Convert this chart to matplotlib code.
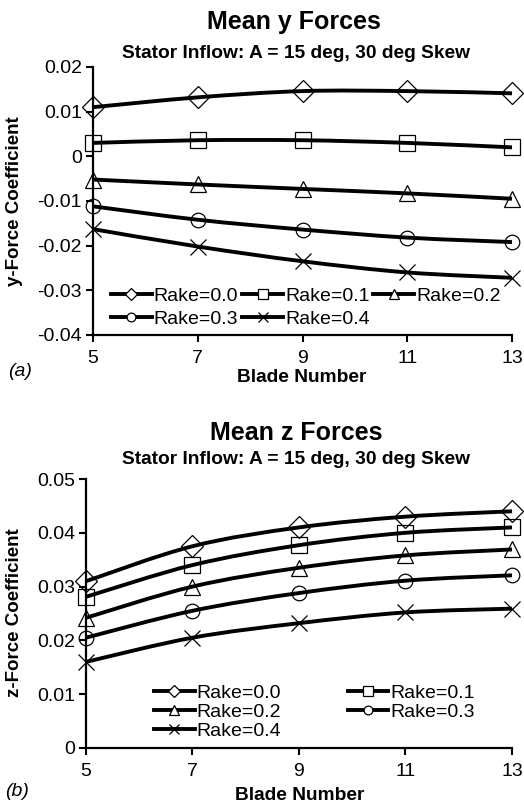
import numpy as np
import matplotlib
matplotlib.use("Agg")
import matplotlib.pyplot as plt
from matplotlib.path import Path
from matplotlib.patches import PathPatch
from matplotlib.lines import Line2D

plt.rcParams['font.family'] = ['Liberation Sans', 'DejaVu Sans']
plt.rcParams['axes.unicode_minus'] = False

blades = [5, 7, 9, 11, 13]
rake_labels = ["Rake=0.0", "Rake=0.1", "Rake=0.2", "Rake=0.3", "Rake=0.4"]

# Mean y forces
y_rake00 = [0.0110, 0.0132, 0.0146, 0.0146, 0.0141]
y_rake01 = [0.0030, 0.0036, 0.0036, 0.0030, 0.0020]
y_rake02 = [-0.0052, -0.0063, -0.0073, -0.0083, -0.0095]
y_rake03 = [-0.0112, -0.0142, -0.0164, -0.0182, -0.0192]
y_rake04 = [-0.0163, -0.0202, -0.0235, -0.0260, -0.0272]

# Mean z forces
z_rake00 = [0.0310, 0.0375, 0.0410, 0.0430, 0.0440]
z_rake01 = [0.0281, 0.0340, 0.0377, 0.0400, 0.0410]
z_rake02 = [0.0242, 0.0300, 0.0335, 0.0358, 0.0369]
z_rake03 = [0.0205, 0.0255, 0.0288, 0.0311, 0.0321]
z_rake04 = [0.0160, 0.0205, 0.0232, 0.0252, 0.0259]

y_ticks = [-0.04, -0.03, -0.02, -0.01, 0, 0.01, 0.02]
y_ticklabels = ["-0.04", "-0.03", "-0.02", "-0.01", "0", "0.01", "0.02"]
z_ticks = [0, 0.01, 0.02, 0.03, 0.04, 0.05]
z_ticklabels = ["0", "0.01", "0.02", "0.03", "0.04", "0.05"]
x_ticks = [5, 7, 9, 11, 13]

markers = [('D', 11), ('s', 11), ('^', 12), ('o', 10.5), ('x', 12)]


def smooth_path(x, y):
    x = np.asarray(x, float)
    y = np.asarray(y, float)
    n = len(x)
    verts = [(x[0], y[0])]
    codes = [Path.MOVETO]
    for i in range(n - 1):
        x0, y0 = (x[i - 1], y[i - 1]) if i > 0 else (x[i], y[i])
        x3, y3 = (x[i + 2], y[i + 2]) if i + 2 < n else (x[i + 1], y[i + 1])
        c1 = (x[i] + (x[i + 1] - x0) / 6, y[i] + (y[i + 1] - y0) / 6)
        c2 = (x[i + 1] - (x3 - x[i]) / 6, y[i + 1] - (y3 - y[i]) / 6)
        verts += [c1, c2, (x[i + 1], y[i + 1])]
        codes += [Path.CURVE4] * 3
    return Path(verts, codes)


def draw_panel(ax, series, yticks, yticklabels, ylim):
    for (m, ms), vals in zip(markers, series):
        patch = PathPatch(smooth_path(blades, vals), fill=False, lw=2.8,
                          edgecolor='black', zorder=3, clip_on=False)
        ax.add_patch(patch)
        ax.plot(blades, vals, ls='none', marker=m, ms=ms, mfc='none',
                mec='black', mew=0.9, clip_on=False, zorder=4)
    ax.set_xlim(5, 13)
    ax.set_ylim(*ylim)
    ax.set_xticks(x_ticks)
    ax.set_xticklabels([str(v) for v in x_ticks])
    ax.set_yticks(yticks)
    ax.set_yticklabels(yticklabels)
    for s in ['top', 'right']:
        ax.spines[s].set_visible(False)
    for s in ['left', 'bottom']:
        ax.spines[s].set_linewidth(1.6)
    ax.tick_params(axis='both', direction='out', length=5, width=1.5,
                   labelsize=14, colors='black')
    ax.tick_params(axis='x', pad=6)
    ax.tick_params(axis='y', pad=3)
    ax.set_facecolor('none')


def handles():
    hs = []
    for (m, ms) in markers:
        hs.append(Line2D([], [], color='black', lw=2.8, marker=m, ms=ms * 0.6,
                         mfc='white', mec='black', mew=0.9))
    return hs


fig = plt.figure(figsize=(5.24, 8.06), dpi=100)

# Top panel
ax1 = fig.add_axes([0.1775, 0.5844, 0.7996, 0.3325])
draw_panel(ax1, [y_rake00, y_rake01, y_rake02, y_rake03, y_rake04],
           y_ticks, y_ticklabels, (-0.04, 0.02))
hs = handles()
order = [0, 3, 1, 4, 2]
ax1.legend([hs[i] for i in order], [rake_labels[i] for i in order], ncol=3,
           loc='upper left', bbox_to_anchor=(111 / 524, 1 - 287 / 806),
           bbox_transform=fig.transFigure, frameon=False, fontsize=14,
           handlelength=2.1, handletextpad=0.1, columnspacing=0.2,
           labelspacing=0.3, borderpad=0, borderaxespad=0)
fig.text(294 / 524, 1 - 22 / 806, "Mean y Forces", ha='center', va='center',
         fontsize=18, fontweight='bold')
fig.text(296 / 524, 1 - 53 / 806, "Stator Inflow: A = 15 deg, 30 deg Skew",
         ha='center', va='center', fontsize=13.8, fontweight='bold')
fig.text(15 / 524, 1 - 201 / 806, "y-Force Coefficient", rotation=90,
         ha='center', va='center', fontsize=13.5, fontweight='bold')
fig.text(302 / 524, 1 - 377 / 806, "Blade Number", ha='center', va='center',
         fontsize=13.8, fontweight='bold')
fig.text(8 / 524, 1 - 372 / 806, "(a)", ha='left', va='center', fontsize=14,
         style='italic')

# Bottom panel
ax2 = fig.add_axes([0.1641, 0.0720, 0.8130, 0.3337])
draw_panel(ax2, [z_rake00, z_rake01, z_rake02, z_rake03, z_rake04],
           z_ticks, z_ticklabels, (0, 0.05))
order2 = [0, 2, 4, 1, 3]
ax2.legend([hs[i] for i in order2], [rake_labels[i] for i in order2], ncol=2,
           loc='upper left', bbox_to_anchor=(154 / 524, 1 - 684 / 806),
           bbox_transform=fig.transFigure, frameon=False, fontsize=14,
           handlelength=2.1, handletextpad=0.1, columnspacing=3.4,
           labelspacing=0.08, borderpad=0, borderaxespad=0)
fig.text(296 / 524, 1 - 433 / 806, "Mean z Forces", ha='center', va='center',
         fontsize=18, fontweight='bold')
fig.text(296 / 524, 1 - 460 / 806, "Stator Inflow: A = 15 deg, 30 deg Skew",
         ha='center', va='center', fontsize=13.8, fontweight='bold')
fig.text(15 / 524, 1 - 613 / 806, "z-Force Coefficient", rotation=90,
         ha='center', va='center', fontsize=13.5, fontweight='bold')
fig.text(300 / 524, 1 - 796 / 806, "Blade Number", ha='center', va='center',
         fontsize=13.8, fontweight='bold')
fig.text(5 / 524, 1 - 791 / 806, "(b)", ha='left', va='center', fontsize=14,
         style='italic')

fig.savefig("out.png", dpi=100)
